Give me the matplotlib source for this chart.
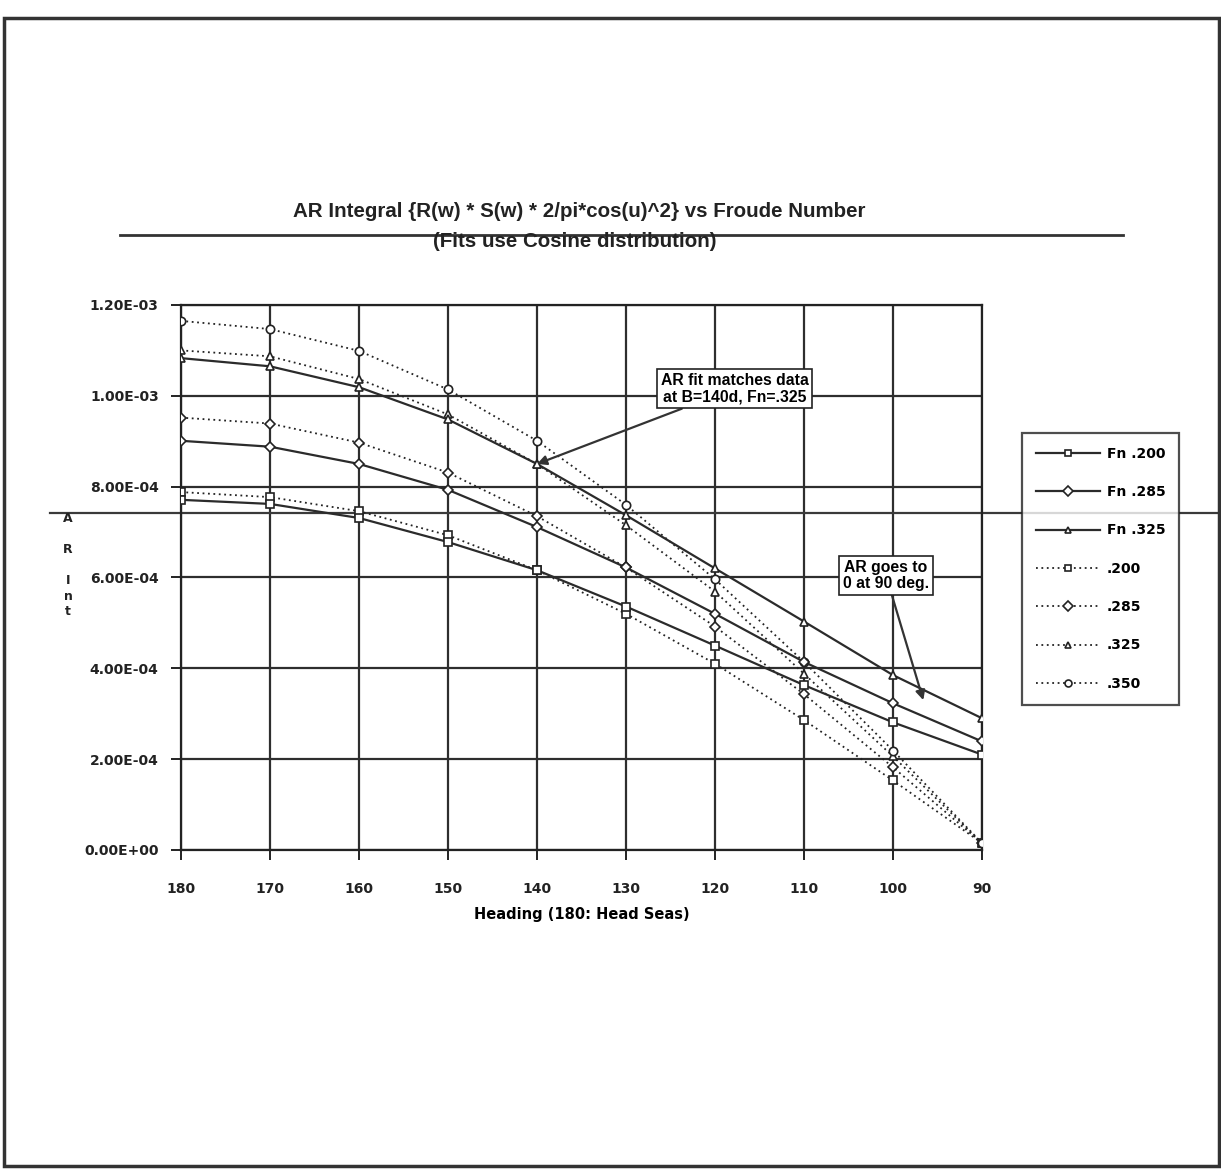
import matplotlib
matplotlib.use("Agg")
import matplotlib.pyplot as plt
from matplotlib.ticker import FuncFormatter
from matplotlib.patches import Rectangle
from matplotlib.lines import Line2D

plt.rcParams['font.family'] = ['DejaVu Sans']
plt.rcParams['font.weight'] = 'bold'

# Heading (deg) and AR integral values per Froude number
heading = [180, 170, 160, 150, 140, 130, 120, 110, 100, 90]

# data (solid lines)
fn200 = [7.71e-4, 7.62e-4, 7.31e-4, 6.78e-4, 6.16e-4, 5.36e-4, 4.50e-4, 3.63e-4, 2.81e-4, 2.10e-4]
fn285 = [9.01e-4, 8.88e-4, 8.50e-4, 7.93e-4, 7.11e-4, 6.22e-4, 5.20e-4, 4.14e-4, 3.23e-4, 2.39e-4]
fn325 = [1.083e-3, 1.065e-3, 1.019e-3, 9.48e-4, 8.50e-4, 7.37e-4, 6.20e-4, 5.03e-4, 3.85e-4, 2.90e-4]

# cosine fits (dotted lines)
fit200 = [7.88e-4, 7.77e-4, 7.46e-4, 6.93e-4, 6.16e-4, 5.20e-4, 4.10e-4, 2.86e-4, 1.53e-4, 1.5e-5]
fit285 = [9.52e-4, 9.39e-4, 8.97e-4, 8.31e-4, 7.35e-4, 6.22e-4, 4.92e-4, 3.43e-4, 1.82e-4, 1.5e-5]
fit325 = [1.100e-3, 1.087e-3, 1.037e-3, 9.59e-4, 8.50e-4, 7.15e-4, 5.69e-4, 3.88e-4, 2.06e-4, 1.5e-5]
fit350 = [1.165e-3, 1.147e-3, 1.099e-3, 1.014e-3, 9.01e-4, 7.60e-4, 5.96e-4, 4.14e-4, 2.19e-4, 1.5e-5]

yticks = [0, 2e-4, 4e-4, 6e-4, 8e-4, 1e-3, 1.2e-3]

fig = plt.figure(figsize=(12.21, 11.69), dpi=100)
ax = fig.add_axes([0.1482, 0.2729, 0.6561, 0.4662])

solid = dict(color='#2b2b2b', lw=1.6, markersize=6, markerfacecolor='white',
             markeredgecolor='#222222', markeredgewidth=1.2)
dotted = dict(color='#222222', lw=1.3, ls=(0, (1, 2)), markersize=6, markerfacecolor='white',
              markeredgecolor='#222222', markeredgewidth=1.2)

ax.plot(heading, fn200, marker='s', label='Fn .200', zorder=4, **solid)
ax.plot(heading, fn285, marker='D', label='Fn .285', zorder=4, **{**solid, 'markersize': 5})
ax.plot(heading, fn325, marker='^', label='Fn .325', zorder=4, **solid)
ax.plot(heading, fit200, marker='s', label='.200', zorder=3, **dotted)
ax.plot(heading, fit285, marker='D', label='.285', zorder=3, **{**dotted, 'markersize': 5})
ax.plot(heading, fit325, marker='^', label='.325', zorder=3, **dotted)
ax.plot(heading, fit350, marker='o', label='.350', zorder=3, **dotted)

ax.set_xlim(180, 90)
ax.set_ylim(0, 1.2e-3)
ax.set_xticks(heading)
ax.set_yticks(yticks)
ax.yaxis.set_major_formatter(FuncFormatter(lambda v, p: f"{v:.2E}"))
ax.grid(True, color='#2e2e2e', lw=1.6)
ax.set_axisbelow(True)
for s in ax.spines.values():
    s.set_color('#222222')
    s.set_linewidth(1.6)
ax.tick_params(direction='out', length=7, width=1.4, labelsize=10, colors='#222222')
ax.tick_params(axis='x', pad=16)
ax.tick_params(axis='y', pad=9)

ax.set_xlabel('Heading (180: Head Seas)', fontsize=10.5, fontweight='bold', labelpad=8)

# stray rule across the page at ~7.4E-04
ax.axhline(7.42e-4, xmin=(50 - 181) / 801, xmax=(1221 - 181) / 801, color='#3a3a3a',
           lw=1.6, clip_on=False, zorder=2)

# stacked axis title
fig.text(0.0557, 0.5163, 'A\n\nR\n\nI\nn\nt', ha='center', va='center', fontsize=9,
         fontweight='bold', linespacing=1.25, color='#222222')

# chart titles
fig.text(0.474, 0.8187, 'AR Integral {R(w) * S(w) * 2/pi*cos(u)^2} vs Froude Number',
         ha='center', va='center', fontsize=14.8, family='Liberation Sans', fontweight='bold',
         color='#222222')
fig.text(0.471, 0.7938, '(Fits use Cosine distribution)', ha='center', va='center',
         fontsize=14.8, family='Liberation Sans', fontweight='bold', color='#222222')
fig.add_artist(Line2D([120 / 1221, 1123 / 1221], [0.799, 0.799], transform=fig.transFigure,
                      color='#333333', lw=2))

# page frame
fig.add_artist(Rectangle((4 / 1221, 1 - 1166 / 1169), 1215 / 1221, 1148 / 1169,
                         transform=fig.transFigure, fill=False, edgecolor='#333333', lw=2.5))

# annotations
box = dict(boxstyle='square,pad=0.25', facecolor='white', edgecolor='#222222', lw=1.2)
arrow = dict(arrowstyle='-|>', color='#333333', lw=1.6, mutation_scale=14, shrinkA=0, shrinkB=0)
ax.annotate('AR fit matches data\nat B=140d, Fn=.325', xy=(140, 8.5e-4), xytext=(117.8, 1.016e-3),
            ha='center', va='center', fontsize=11.3, family='Liberation Sans', fontweight='bold',
            linespacing=1.1, bbox=box, arrowprops=arrow, zorder=6)
ax.annotate('AR goes to\n0 at 90 deg.', xy=(96.6, 3.3e-4), xytext=(100.8, 6.05e-4),
            ha='center', va='center', fontsize=11.3, family='Liberation Sans', fontweight='bold',
            linespacing=1.1, bbox=box, arrowprops=arrow, zorder=6)

leg = fig.legend(loc='upper left', bbox_to_anchor=(0.837, 0.6296), frameon=True, fancybox=False,
                 fontsize=10, handlelength=4.6, handletextpad=0.5, labelspacing=1.75,
                 borderpad=1.0, borderaxespad=0)
leg.get_frame().set_edgecolor('#222222')
leg.get_frame().set_linewidth(1.6)
for h in leg.legend_handles:
    h.set_markersize(5)

fig.savefig('out.png', dpi=100, facecolor='white')
